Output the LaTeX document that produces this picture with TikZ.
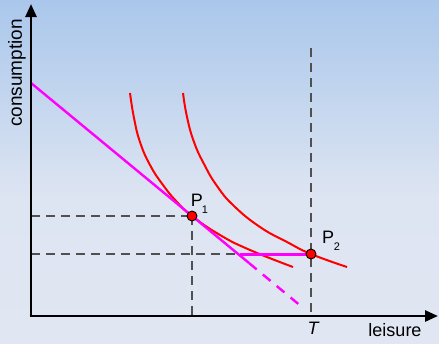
\documentclass[tikz,border=0pt]{standalone}
\usepackage{fontspec}
\setmainfont{Liberation Sans}
\usetikzlibrary{arrows.meta}
\definecolor{bgtop}{RGB}{170,199,235}
\definecolor{bgmid}{RGB}{222,229,242}
\definecolor{bgbot}{RGB}{224,230,242}
\definecolor{mag}{RGB}{255,0,255}
\definecolor{dashgray}{RGB}{80,80,80}
\tikzset{
  axisline/.style={line width=2.6pt,-{Triangle[length=13pt,width=11pt]}},
  guide/.style={dashgray,line width=1.3pt,dash pattern=on 9pt off 6pt},
  icurve/.style={red,line width=2pt},
  budget/.style={mag,line width=2.4pt},
  budgetflat/.style={mag,line width=3pt},
  budgetdash/.style={mag,line width=2.4pt,dash pattern=on 10pt off 8pt},
  pointdot/.style={circle,fill=red,draw=black,line width=0.9pt,inner sep=0pt,minimum size=10pt},
  lbl/.style={font=\fontsize{18}{20}\selectfont,inner sep=0pt},
  sub/.style={font=\fontsize{11}{12}\selectfont,inner sep=0pt}
}
\begin{document}
\begin{tikzpicture}[x=1pt,y=-1pt]
\useasboundingbox (0,0) rectangle (439,343);
\shade[top color=bgtop,bottom color=bgmid] (0,0) rectangle (439,200);
\fill[bgmid] (0,199.5) rectangle (439,343);
\shade[top color=bgmid,bottom color=bgbot] (0,200) rectangle (439,343);

% coordinates
\coordinate (O) at (31,316);
\coordinate (Ytop) at (31,4);
\coordinate (Xend) at (438,316);
\coordinate (B0) at (31,83);
\coordinate (Bs) at (249,263);
\coordinate (Bd) at (302,307);
\coordinate (H0) at (240,254);
\coordinate (Y1) at (31,216);
\coordinate (Y2) at (31,254);
\coordinate (X1) at (192,316);
\coordinate (Ttop) at (311,48);
\coordinate (XT) at (311,316);

% guides
\draw[guide] (Y1) -- (192,216);
\draw[guide] (192,216) -- (X1);
\draw[guide] (Y2) -- (H0);
\draw[guide] (Ttop) -- (XT);

% indifference curves
\draw[icurve] plot[smooth,tension=0.8] coordinates {(130,93) (134,118) (140,142) (150,165) (163,185) (177,202) (192,216) (220,235) (250,250) (293,267)};
\draw[icurve] plot[smooth,tension=0.8] coordinates {(183,93) (187,117) (194,142) (204,164) (217,186) (234,206) (260,227) (287,242) (311,254) (347,267)};

% budget
\draw[budget] (B0) -- (Bs);
\draw[budgetdash] (Bs) -- (Bd);
\draw[budgetflat] (H0) -- (311,254);

% axes
\draw[axisline] (O) -- (Ytop);
\draw[axisline] (29.7,316) -- (Xend);

% points
\node[pointdot] (P1) at (192,216) {};
\node[pointdot] (P2) at (311,254) {};

% labels
\node[lbl,rotate=90,font=\fontsize{19}{21}\selectfont] (cy) at (17,73) {consumption};
\node[lbl] (lx) at (395,330) {leisure};
\node[lbl] (tl) at (313,328) {\itshape T};
\node[lbl] (p1) at (197,200) {P};
\node[sub] (s1) at (205,210) {1};
\node[lbl] (p2) at (328,237) {P};
\node[sub] (s2) at (337,247) {2};
\end{tikzpicture}
\end{document}
